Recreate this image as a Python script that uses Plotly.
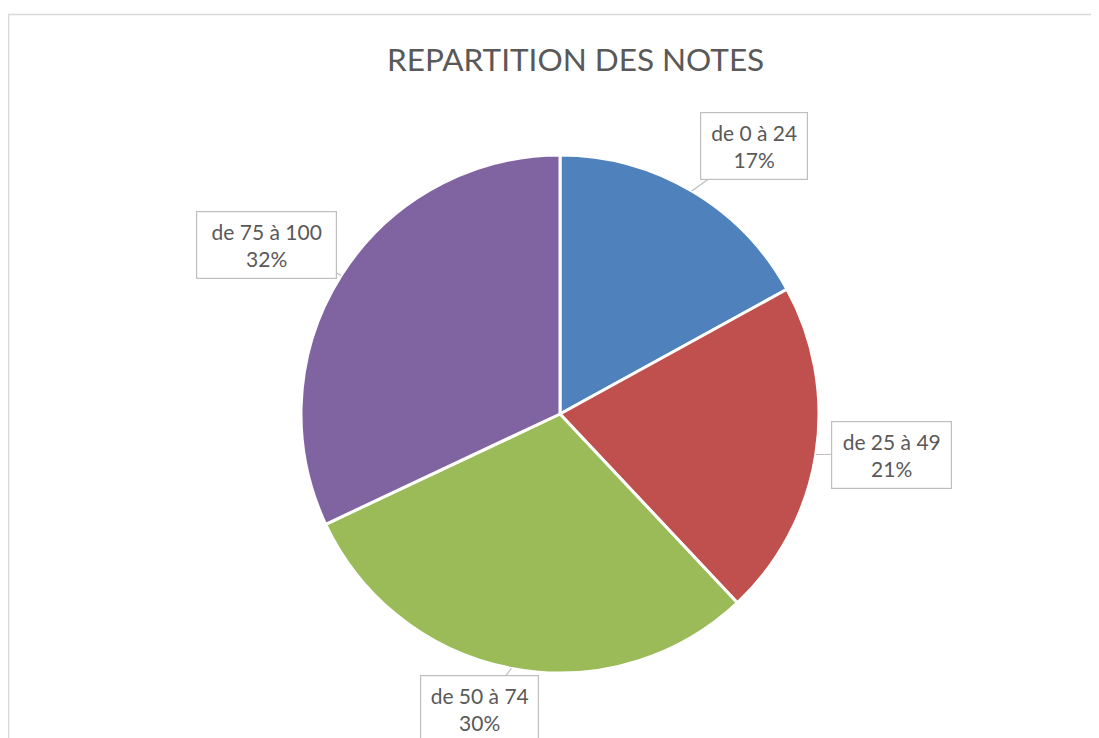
import math
import plotly.graph_objects as go

# ---- data ----
categories = ["de 0 à 24", "de 25 à 49", "de 50 à 74", "de 75 à 100"]
values = [17, 21, 30, 32]
colors = ["#4F81BD", "#C0504D", "#9BBB59", "#8064A2"]
title_text = "REPARTITION DES NOTES"

# ---- layout geometry (pixels, page coordinates) ----
OFF = 8                      # default body margin of the html page
W, H = 1099 - OFF, 738 - OFF
cx, cy, R = 560 - OFF, 414 - OFF, 259
# label box centre offsets from the slice-edge tip (pixels, +y down) and box sizes
label_offsets = [(62, -45), (76, 0), (-32, 41), (-75, -30)]
label_box_w = [106, 119, 117, 139]
label_box_h = 66

def px_to_paper(x, y):
    return x / W, 1 - y / H

fig = go.Figure()
fig.add_trace(go.Pie(
    labels=categories,
    values=values,
    sort=False,
    direction="clockwise",
    rotation=0,
    marker=dict(colors=colors, line=dict(color="white", width=3)),
    textinfo="none",
    hoverinfo="label+percent",
    showlegend=False,
    domain=dict(x=[(cx - R) / W, (cx + R) / W], y=[1 - (cy + R) / H, 1 - (cy - R) / H]),
))

total = sum(values)
cum = 0
annotations = []
for cat, v, (ox, oy), bw in zip(categories, values, label_offsets, label_box_w):
    mid = (cum + v / 2) / total * 2 * math.pi
    cum += v
    tx = cx + R * math.sin(mid)
    ty = cy - R * math.cos(mid)
    px, py = px_to_paper(tx, ty)
    pct = round(v / total * 100)
    annotations.append(dict(
        x=px, y=py, xref="paper", yref="paper",
        text=f"{cat}<br>{pct}%",
        showarrow=True, arrowhead=0, arrowwidth=1.2, arrowcolor="#BFBFBF",
        ax=ox, ay=oy, axref="pixel", ayref="pixel",
        font=dict(family="Lato, 'Open Sans', sans-serif", size=21, color="#595959"),
        bgcolor="white", bordercolor="#BFBFBF", borderwidth=1.2, borderpad=0,
        width=bw, height=label_box_h,
        align="center", valign="middle",
    ))

annotations.append(dict(
    x=(575 - OFF) / W, y=1 - (59 - OFF) / H, xref="paper", yref="paper",
    text=title_text, showarrow=False,
    font=dict(family="Lato, 'Open Sans', sans-serif", size=31.5, color="#595959"),
    xanchor="center", yanchor="middle",
))

# chart-area frame: only left and top edges are inside the window
bx0 = 0.5 / W
by0 = 1 - 6.5 / H
frame_path = f"M {bx0},-0.05 L {bx0},{by0} L 1.05,{by0}"

fig.update_layout(
    width=W, height=H,
    margin=dict(l=0, r=0, t=0, b=0),
    paper_bgcolor="white",
    plot_bgcolor="white",
    annotations=annotations,
    shapes=[dict(type="path", xref="paper", yref="paper", path=frame_path,
                 line=dict(color="#D9D9D9", width=1.5), layer="below")],
)

fig.write_html("out.html")
